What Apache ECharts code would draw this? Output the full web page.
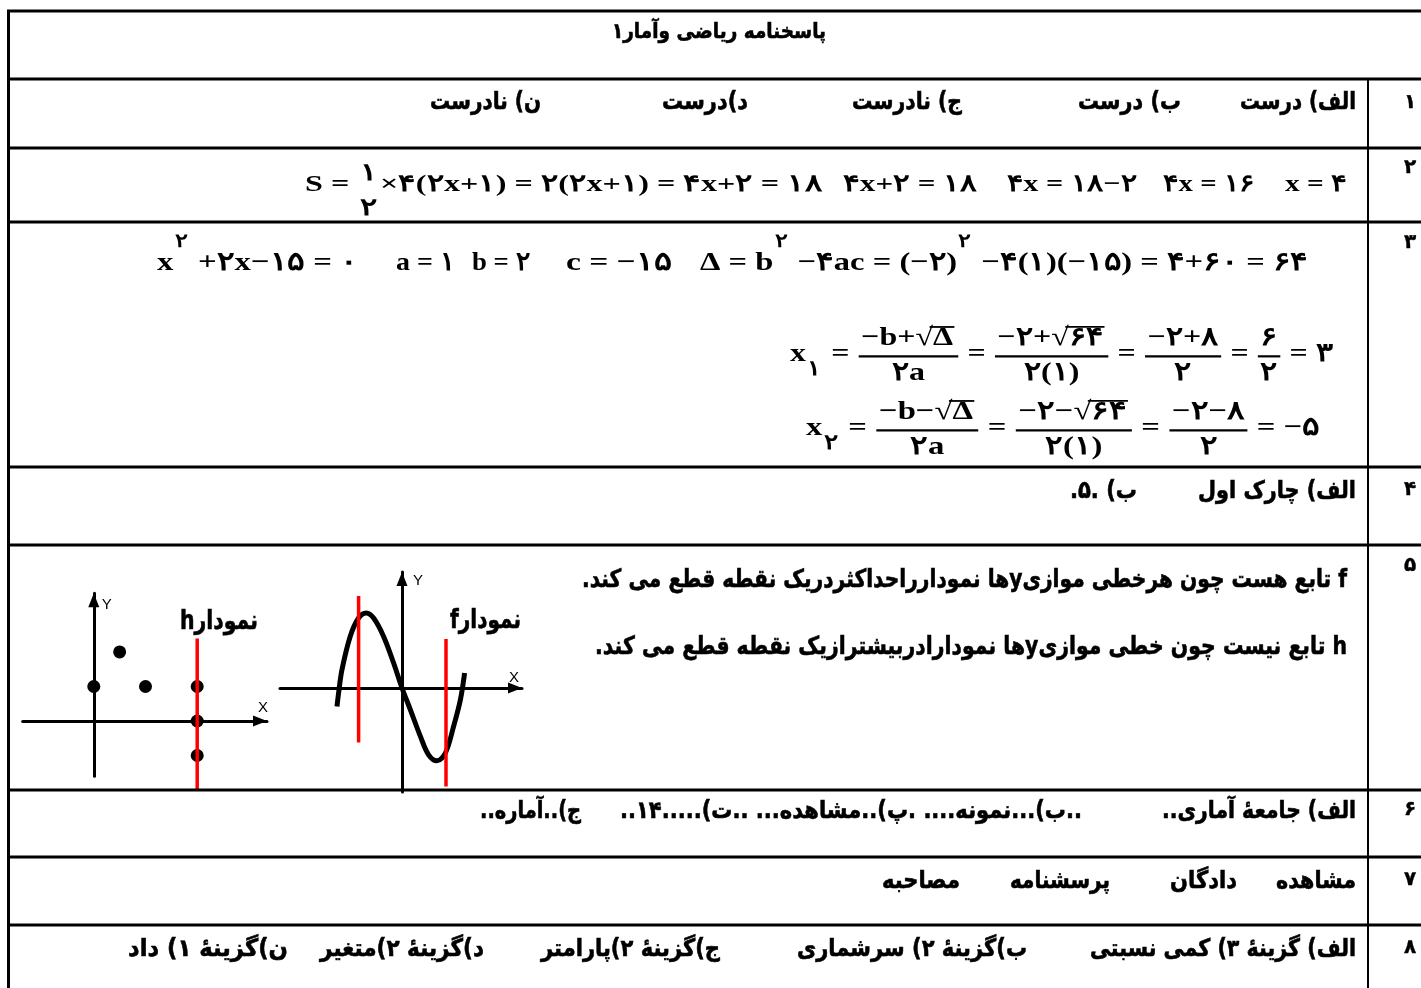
<!DOCTYPE html>
<html><head><meta charset="utf-8">
<script src="https://cdn.jsdelivr.net/npm/echarts@6/dist/echarts.min.js"></script>
<style>html,body{margin:0;padding:0;background:#fff}#c{width:1421px;height:988px}</style>
</head><body><div id="c"></div>
<script>
// ---------- DATA ----------
// graph of f (sine-like curve)
const fCurveX = [-3.25, -3.17, -3.0, -2.59, -2.17, -1.79, -1.42, -0.92, -0.42, 0, 0.42, 0.92, 1.33, 1.75, 2.17, 2.58, 2.92, 3.13];
const fCurveY = [-0.92, -0.25, 0.92, 2.58, 3.5, 3.75, 3.5, 2.58, 1.25, 0, -1.09, -2.42, -3.34, -3.64, -3.25, -1.92, -0.59, 0.75];
// vertical test lines for f: [x, yTop, yBottom]
const fVerticalLines = [[-2.17, 4.6, -2.72], [2.2, 2.45, -4.92]];
// graph of h (points)
const hPointsX = [0, 1, 2, 4, 4, 4];
const hPointsY = [1, 2, 1, 1, 0, -1];
const hVerticalLine = [4, 2.39, -1.98];
const axisNames = ['X', 'Y'];
const graphTitles = ['نمودارf', 'نمودارh'];

// texts
const titleText = 'پاسخنامه ریاضی وآمار۱';
const rowNumbers = ['۱', '۲', '۳', '۴', '۵', '۶', '۷', '۸'];
const row1Texts = ['الف) درست', 'ب) درست', 'ج) نادرست', 'د)درست', 'ن) نادرست'];
const row4Texts = ['الف) چارک اول', 'ب) .۵.'];
const row5Texts = ['f تابع هست چون هرخطی موازیyها نمودارراحداکثردریک نقطه قطع می کند.',
                   'h تابع نیست چون خطی موازیyها نمودارادربیشترازیک نقطه قطع می کند.'];
const row6Texts = ['الف) جامعهٔ آماری..', '..ب)...نمونه.... .پ)..مشاهده... ..ت).....۱۴..', 'ج)..آماره..'];
const row7Texts = ['مشاهده', 'دادگان', 'پرسشنامه', 'مصاحبه'];
const row8Texts = ['الف) گزینهٔ ۳) کمی نسبتی', 'ب)گزینهٔ ۲) سرشماری', 'ج)گزینهٔ ۲)پارامتر', 'د)گزینهٔ ۲)متغیر', 'ن)گزینهٔ ۱) داد'];

// ---------- LAYOUT ----------
const MF = '"Liberation Serif", "Times New Roman", serif';
const FF = '"DejaVu Sans", sans-serif';
const mctx = document.createElement('canvas').getContext('2d');
function mw(s, size, fam) { mctx.font = 'bold ' + size + 'px ' + fam; return mctx.measureText(s).width; }
function T(s, x, y, size, fam, align, strokeW) {
  const st = {text: s, fontSize: size, fontFamily: fam || MF, fontWeight: 'bold', fill: '#000',
              align: align || 'left', verticalAlign: 'middle'};
  if (strokeW) { st.stroke = '#000'; st.lineWidth = strokeW; }
  return {type: 'text', x: x, y: y, silent: true, z: 10, style: st};
}
function Ln(x1, y1, x2, y2, w, color) {
  return {type: 'line', silent: true, z: 5, shape: {x1: x1, y1: y1, x2: x2, y2: y2}, style: {stroke: color || '#000', lineWidth: w}};
}
function lay(tokens, size) {
  let x = 0; const els = [];
  tokens.forEach(function (tk) {
    if (typeof tk === 'string') { els.push(T(tk, x, 0, size)); x += mw(tk, size, MF); }
    else if (tk.sup != null) { const s2 = size * 0.72; els.push(T(tk.sup, x + 1, -size * 0.8, s2)); x += mw(tk.sup, s2, MF) + 3; }
    else if (tk.sub != null) { const s2 = size * 0.8; els.push(T(tk.sub, x + 1, size * 0.62, s2)); x += mw(tk.sub, s2, MF) + 3; }
    else if (tk.frac) {
      const n = lay(tk.frac[0], size), d = lay(tk.frac[1], size);
      const pad = tk.bar === false ? 2 : size * 0.12;
      const w = Math.max(n.w, d.w) + 2 * pad;
      const ny = tk.ny != null ? tk.ny : -size * 0.62;
      const dy = tk.dy != null ? tk.dy : size * 0.73;
      els.push({type: 'group', x: x + (w - n.w) / 2, y: ny, children: n.els});
      els.push({type: 'group', x: x + (w - d.w) / 2, y: dy, children: d.els});
      if (tk.bar !== false) els.push(Ln(x + 1, size * 0.09, x + w - 1, size * 0.09, Math.max(2, size * 0.085)));
      x += w;
    } else if (tk.sqrt) {
      const rw = mw('√', size, MF);
      els.push(T('√', x, 0, size));
      const b = lay(tk.sqrt, size);
      els.push({type: 'group', x: x + rw, y: 0, children: b.els});
      els.push(Ln(x + rw * 0.8, -size * 0.42, x + rw + b.w + 1, -size * 0.42, Math.max(1.5, size * 0.07)));
      x += rw + b.w + 2;
    }
  });
  return {w: x, els: els};
}
function formula(tokens, left, right, y, size) {
  const L = lay(tokens, size);
  return {type: 'group', x: left, y: y, scaleX: (right - left) / L.w, children: L.els};
}
function fa(s, right, y, w, size) {
  const str = '\u202B' + s + '\u202C';
  const nat = mw(str, size, FF);
  const el = T(str, right, y, size, FF, 'right', 0.6);
  if (nat > 0) el.scaleX = w / nat;
  return el;
}

const els = [];
// table lines
[11, 79, 148, 222, 467, 545, 790, 857, 925].forEach(function (y) { els.push(Ln(7, y, 1421, y, 3)); });
els.push(Ln(8.5, 10, 8.5, 988, 3));
els.push(Ln(1368, 79, 1368, 988, 2));

// title
els.push(fa(titleText, 826, 33, 214, 21));
// row numbers
const rowNumY = [103, 168, 243, 490, 566, 810, 880, 948];
rowNumbers.forEach(function (d, i) { els.push(T(d, 1410, rowNumY[i], 20, FF, 'center', 0.4)); });

// row 1
const row1Pos = [[1356, 116], [1181, 103], [962, 110], [748, 86], [541, 111]];
row1Texts.forEach(function (s, i) { els.push(fa(s, row1Pos[i][0], 103, row1Pos[i][1], 24)); });
// row 4
const row4Pos = [[1356, 158], [1137, 67]];
row4Texts.forEach(function (s, i) { els.push(fa(s, row4Pos[i][0], 492, row4Pos[i][1], 24)); });
// row 5
const row5Pos = [[1347, 765, 580], [1347, 752, 647]];
row5Texts.forEach(function (s, i) { els.push(fa(s, row5Pos[i][0], row5Pos[i][2], row5Pos[i][1], 25)); });
// row 6
const row6Pos = [[1356, 194], [1082, 462], [581, 101]];
row6Texts.forEach(function (s, i) { els.push(fa(s, row6Pos[i][0], 812, row6Pos[i][1], 24)); });
// row 7
const row7Pos = [[1356, 80], [1237, 67], [1110, 100], [960, 78]];
row7Texts.forEach(function (s, i) { els.push(fa(s, row7Pos[i][0], 882, row7Pos[i][1], 24)); });
// row 8
const row8Pos = [[1356, 266], [1027, 230], [720, 179], [484, 164], [288, 160]];
row8Texts.forEach(function (s, i) { els.push(fa(s, row8Pos[i][0], 950, row8Pos[i][1], 24)); });
// graph titles
els.push(fa(graphTitles[0], 521, 621, 71, 26));
els.push(fa(graphTitles[1], 258, 622, 78, 26));

// row 2 formulas
els.push(formula(['S = ', {frac: [['۱'], ['۲']], bar: false, ny: -11, dy: 24}, '×۴(۲x+۱) = ۲(۲x+۱) = ۴x+۲ = ۱۸'], 305, 822, 185, 24));
els.push(formula(['۴x+۲ = ۱۸'], 843, 977, 185, 24));
els.push(formula(['۴x = ۱۸−۲'], 1007, 1137, 185, 24));
els.push(formula(['۴x = ۱۶'], 1163, 1255, 185, 24));
els.push(formula(['x = ۴'], 1285, 1347, 185, 24));
// row 3 line 1
els.push(formula(['x', {sup: '۲'}, ' +۲x−۱۵ = ۰'], 157, 358, 263, 26));
els.push(formula(['a = ۱'], 396, 455, 263, 26));
els.push(formula(['b = ۲'], 472, 530, 263, 26));
els.push(formula(['c = −۱۵'], 566, 672, 263, 26));
els.push(formula(['Δ = b', {sup: '۲'}, ' −۴ac = (−۲)', {sup: '۲'}, ' −۴(۱)(−۱۵) = ۴+۶۰ = ۶۴'], 700, 1308, 263, 26));
// row 3 roots
els.push(formula(['x', {sub: '۱'}, ' = ',
  {frac: [['−b+', {sqrt: ['Δ']}], ['۲a']]}, ' = ',
  {frac: [['−۲+', {sqrt: ['۶۴']}], ['۲(۱)']]}, ' = ',
  {frac: [['−۲+۸'], ['۲']]}, ' = ',
  {frac: [['۶'], ['۲']]}, ' = ۳'], 790, 1333, 354, 26));
els.push(formula(['x', {sub: '۲'}, ' = ',
  {frac: [['−b−', {sqrt: ['Δ']}], ['۲a']]}, ' = ',
  {frac: [['−۲−', {sqrt: ['۶۴']}], ['۲(۱)']]}, ' = ',
  {frac: [['−۲−۸'], ['۲']]}, ' = −۵'], 806, 1320, 428, 26));

// ---------- CHART ----------
function axis(gridIndex, min, max, name, nameGap, nts) {
  return {type: 'value', gridIndex: gridIndex, min: min, max: max,
    axisLine: {show: true, onZero: true, symbol: ['none', 'triangle'], symbolSize: [11, 14], symbolOffset: [0, -7],
               lineStyle: {color: '#000', width: 3}},
    axisTick: {show: false}, axisLabel: {show: false}, splitLine: {show: false},
    name: name, nameLocation: 'end', nameGap: nameGap,
    nameTextStyle: Object.assign({color: '#000', fontSize: 15, fontFamily: '"Liberation Sans", Arial, sans-serif'}, nts)};
}
const redStyle = {color: '#ff0000', width: 3.5};
const option = {
  backgroundColor: '#fff',
  animation: false,
  grid: [
    {left: 280, top: 572, width: 242, height: 220, outerBoundsMode: 'none', containLabel: false},
    {left: 22.7, top: 593.3, width: 244.3, height: 182.9, outerBoundsMode: 'none', containLabel: false}
  ],
  xAxis: [
    axis(0, -6.1, 6, axisNames[0], -8, {align: 'center', verticalAlign: 'bottom', padding: [0, 0, 3, 0]}),
    axis(1, -2.75, 6.7, axisNames[0], -4, {align: 'center', verticalAlign: 'bottom', padding: [0, 0, 6, 0]})
  ],
  yAxis: [
    axis(0, -5.2, 5.8, axisNames[1], -9, {align: 'left', verticalAlign: 'middle', padding: [0, 0, 0, 11]}),
    axis(1, -1.6, 3.7, axisNames[1], -12, {align: 'left', verticalAlign: 'middle', padding: [0, 0, 0, 8]})
  ],
  series: [
    {type: 'line', xAxisIndex: 0, yAxisIndex: 0, smooth: 0.35, showSymbol: false, z: 3,
     lineStyle: {color: '#000', width: 5}, data: fCurveX.map(function (x, i) { return [x, fCurveY[i]]; })},
    {type: 'line', xAxisIndex: 0, yAxisIndex: 0, showSymbol: false, z: 4, clip: false, lineStyle: redStyle,
     data: [[fVerticalLines[0][0], fVerticalLines[0][1]], [fVerticalLines[0][0], fVerticalLines[0][2]]]},
    {type: 'line', xAxisIndex: 0, yAxisIndex: 0, showSymbol: false, z: 4, clip: false, lineStyle: redStyle,
     data: [[fVerticalLines[1][0], fVerticalLines[1][1]], [fVerticalLines[1][0], fVerticalLines[1][2]]]},
    {type: 'scatter', xAxisIndex: 1, yAxisIndex: 1, symbolSize: 13, z: 3, itemStyle: {color: '#000', opacity: 1},
     data: hPointsX.map(function (x, i) { return [x, hPointsY[i]]; })},
    {type: 'line', xAxisIndex: 1, yAxisIndex: 1, showSymbol: false, z: 4, clip: false, lineStyle: redStyle,
     data: [[hVerticalLine[0], hVerticalLine[1]], [hVerticalLine[0], hVerticalLine[2]]]}
  ],
  graphic: {elements: els}
};
const chart = echarts.init(document.getElementById('c'), null, {renderer: 'canvas', width: 1421, height: 988});
chart.setOption(option);
</script>
</body></html>
